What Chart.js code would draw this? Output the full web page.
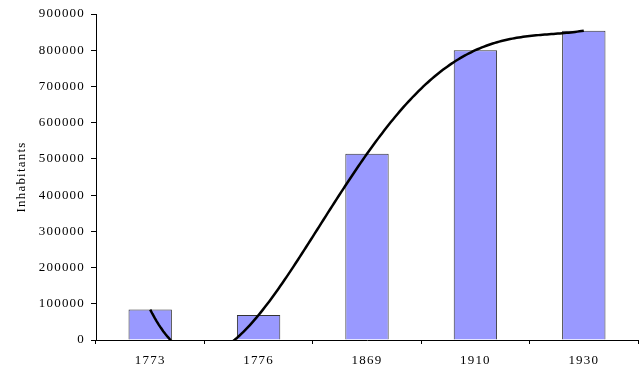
<!DOCTYPE html>
<html>
<head>
<meta charset="utf-8">
<script src="https://cdn.jsdelivr.net/npm/chart.js@4/dist/chart.umd.min.js"></script>
<style>
  html, body { margin: 0; padding: 0; background: #fff; }
  #wrap { width: 643px; height: 369px; }
</style>
</head>
<body>
<div id="wrap"><canvas id="c" width="643" height="369"></canvas></div>
<script>
// ---- data ----
const categories = ['1773', '1776', '1869', '1910', '1930'];
const inhabitants = [84000, 69000, 514000, 800000, 854000];
const yMin = 0;
const yMax = 900000;
const yStep = 100000;
const yTitle = 'Inhabitants';

// Polynomial trendline (order 4, as in the original spreadsheet) through the bar values
function trendAt(t) {
  const n = inhabitants.length;
  let s = 0;
  for (let i = 0; i < n; i++) {
    let w = 1;
    for (let j = 0; j < n; j++) if (j !== i) w *= (t - j) / (i - j);
    s += w * inhabitants[i];
  }
  return s;
}
const trendPoints = [];
for (let k = 0; k <= 200; k++) {
  const t = k / 50;
  trendPoints.push({ x: t, y: trendAt(t) });
}

const SERIF = "'Liberation Serif', 'Times New Roman', serif";
const spacingPlugin = {
  id: 'spacing',
  beforeUpdate(chart) { chart.ctx.letterSpacing = '1.2px'; },
  beforeDraw(chart) { chart.ctx.letterSpacing = '1.2px'; }
};

new Chart(document.getElementById('c'), {
  type: 'bar',
  data: {
    labels: categories,
    datasets: [
      {
        type: 'line',
        data: trendPoints,
        xAxisID: 'x2',
        borderColor: '#000',
        borderWidth: 2.5,
        pointRadius: 0,
        tension: 0,
        clip: 0,
        order: 0
      },
      {
        type: 'bar',
        data: inhabitants,
        xAxisID: 'x',
        backgroundColor: '#9999FF',
        borderColor: '#333333',
        borderWidth: 1,
        grouped: false,
        categoryPercentage: 1,
        barPercentage: 0.4,
        order: 1
      }
    ]
  },
  options: {
    responsive: false,
    animation: false,
    events: [],
    layout: { padding: { top: 14, right: 5, left: 0, bottom: 0 } },
    plugins: { legend: { display: false }, tooltip: { enabled: false } },
    scales: {
      x: {
        type: 'category',
        offset: true,
        grid: { offset: true, drawOnChartArea: false, drawTicks: true, tickLength: 4, color: '#000' },
        border: { color: '#000', width: 1 },
        ticks: { color: '#000', font: { family: SERIF, size: 13 }, padding: 9, maxRotation: 0 },
        afterFit(s) { s.height = 29; }
      },
      x2: {
        type: 'linear',
        display: false,
        offset: false,
        grid: { offset: false },
        min: -0.5,
        max: 4.5
      },
      y: {
        min: yMin,
        max: yMax,
        grid: { drawOnChartArea: false, drawTicks: true, tickLength: 5, color: '#000' },
        border: { color: '#000', width: 1 },
        ticks: { stepSize: yStep, color: '#000', font: { family: SERIF, size: 13 }, padding: 6,
                 callback: (v) => String(v) },
        title: { display: true, text: yTitle, color: '#000', font: { family: SERIF, size: 13 }, padding: { top: 14, bottom: 0 } },
        afterFit(s) { s.width = 96; }
      }
    }
  },
  plugins: [spacingPlugin]
});
</script>
</body>
</html>
